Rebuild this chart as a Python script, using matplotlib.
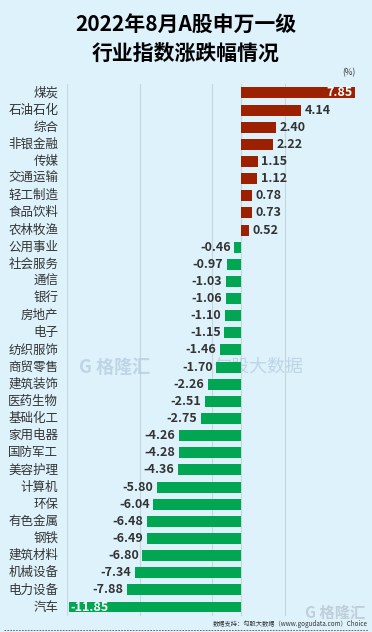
import matplotlib
matplotlib.use("Agg")
import numpy as np
import matplotlib.pyplot as plt

plt.rcParams['font.family'] = ['Noto Sans CJK SC', 'DejaVu Sans']

# 申万一级行业 2022年8月涨跌幅 (%)
industries = ["煤炭", "石油石化", "综合", "非银金融", "传媒", "交通运输", "轻工制造",
              "食品饮料", "农林牧渔", "公用事业", "社会服务", "通信", "银行", "房地产",
              "电子", "纺织服饰", "商贸零售", "建筑装饰", "医药生物", "基础化工",
              "家用电器", "国防军工", "美容护理", "计算机", "环保", "有色金属", "钢铁",
              "建筑材料", "机械设备", "电力设备", "汽车"]
changes = [7.85, 4.14, 2.40, 2.22, 1.15, 1.12, 0.78, 0.73, 0.52, -0.46, -0.97,
           -1.03, -1.06, -1.10, -1.15, -1.46, -1.70, -2.26, -2.51, -2.75, -4.26,
           -4.28, -4.36, -5.80, -6.04, -6.48, -6.49, -6.80, -7.34, -7.88, -11.85]
grid_ticks = [-12, -7, -2, 3, 8]

bg = "#def2fc"
red = "#9b2100"
green = "#00a651"
txt = "#333333"

fig = plt.figure(figsize=(3.72, 6.32), dpi=100, facecolor=bg)
ax = fig.add_axes([67 / 372, 0.026, 290 / 372, 0.8405])
ax.set_facecolor(bg)

y = np.arange(len(changes))
colors = [red if v > 0 else green for v in changes]
ax.barh(y, changes, height=0.64, color=colors, zorder=3)

ax.set_xlim(-12, 8)
ax.set_ylim(len(changes) - 0.5, -0.5)
ax.set_xticks(grid_ticks)
ax.set_xticklabels([])
ax.tick_params(length=0)
ax.set_yticks([])
ax.grid(axis='x', color="#c5d6df", lw=0.8, zorder=0)
ax.axvline(0, color="#c5d6df", lw=0.8, zorder=1)
for s in ax.spines.values():
    s.set_visible(False)

for yi, (name, v) in enumerate(zip(industries, changes)):
    ax.text(-12.6, yi, name, ha='right', va='center', fontsize=9, color=txt)
    if v == max(changes):
        ax.text(v - 0.12, yi, f"{v:.2f}", ha='right', va='center', fontsize=9,
                fontweight='bold', color='white', zorder=4)
    elif v == min(changes):
        ax.text(v + 0.05, yi, f"{v:.2f}", ha='left', va='center', fontsize=9,
                fontweight='bold', color='white', zorder=4)
    elif v > 0:
        ax.text(v + 0.25, yi, f"{v:.2f}", ha='left', va='center', fontsize=9,
                fontweight='bold', color=txt, zorder=4)
    else:
        ax.text(v - 0.25, yi, f"{v:.2f}", ha='right', va='center', fontsize=9,
                fontweight='bold', color=txt, zorder=4)

# 标题
fig.text(0.5, 1 - 24 / 632, "2022年8月A股申万一级", ha='center', va='center',
         fontsize=15, fontweight='bold', color='black')
fig.text(0.5, 1 - 53 / 632, "行业指数涨跌幅情况", ha='center', va='center',
         fontsize=15, fontweight='bold', color='black')
fig.text(349 / 372, 1 - 73 / 632, "(%)", ha='center', va='center', fontsize=6, color=txt)

# 水印 (在柱子后面)
ax.text(-11.2, 16.0, "G 格隆汇", ha='left', va='center', fontsize=13,
        fontweight='bold', color="#a9c2d8", alpha=0.6, zorder=2)
ax.text(-1.9, 16.0, "勾股大数据", ha='left', va='center', fontsize=13,
        color="#a9c2d8", alpha=0.6, zorder=2)
fig.text(0.90, 1 - 613 / 632, "G 格隆汇", ha='center', va='center', fontsize=11,
         fontweight='bold', color="#b8c6d0", alpha=0.8)

# 来源
fig.text(368 / 372, 1 - 624 / 632, "数据支持：勾股大数据（www.gogudata.com）Choice",
         ha='right', va='center', fontsize=4.5, color=txt)
fig.add_artist(plt.Line2D([0.01, 0.99], [1 - 630 / 632] * 2, transform=fig.transFigure,
                          color="#555555", lw=0.6, ls=(0, (2, 1.5))))

fig.savefig("out.png", dpi=100, facecolor=bg)
